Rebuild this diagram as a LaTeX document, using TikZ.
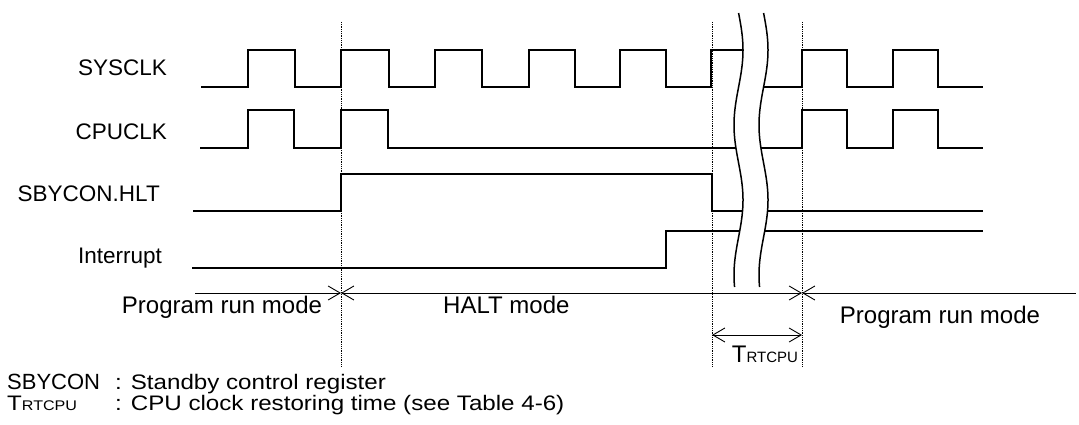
\documentclass[tikz,border=0pt]{standalone}
\usepackage{fontspec}
\setmainfont{Liberation Sans}
\newfontfamily\notefont[FakeStretch=1.15]{Liberation Sans}
\usetikzlibrary{arrows.meta}

\begin{document}
\begin{tikzpicture}[x=1pt,y=-1pt,>={Straight Barb[length=12pt,width=14pt]},
  sig/.style={line width=2pt},
  guide/.style={densely dotted,line width=0.8pt},
  span/.style={line width=0.9pt},
  wave/.style={line width=1.5pt},
  lbl/.style={font=\fontsize{24}{28}\selectfont,inner sep=0pt},
  siglbl/.style={font=\fontsize{22.5}{26}\selectfont,inner sep=0pt,anchor=base east},
  note/.style={font=\notefont\fontsize{21}{25}\selectfont,inner sep=0pt,anchor=base west}]

  \useasboundingbox (0,0) rectangle (1079,425);

  % signal names
  \node[siglbl] (sysclk) at (167,76) {SYSCLK};
  \node[siglbl] (cpuclk) at (167,140) {CPUCLK};
  \node[siglbl] (hlt) at (160,201) {SBYCON.HLT};
  \node[siglbl] (intr) at (162,263) {Interrupt};

  % dotted marks
  \foreach \n/\x in {a/341,b/712,c/802} {
    \coordinate (\n top) at (\x,22);
    \coordinate (\n bot) at (\x,367);
    \draw[guide] (\n top) -- (\n bot);
  }

  % waveforms
  \draw[sig] (201,87) -| (248,50) -| (295,87) -| (341,50) -| (389,87) -| (435,50)
    -| (482,87) -| (529,50) -| (575,87) -| (620,50) -| (666,87) -| (711,50)
    -| (752,87) -| (802,50) -| (847,87) -| (893,50) -| (938,87) -- (983,87);
  \draw[sig] (200,148) -| (248,110) -| (294,148) -| (341,110) -| (388,148)
    -| (802,110) -| (847,148) -| (893,110) -| (938,148) -- (983,148);
  \draw[sig] (193,211) -| (341,174) -| (712,211) -- (983,211);
  \draw[sig] (192,268) -| (666,231) -- (983,231);

  % time break
  \fill[white] plot[domain=13:287,samples=60,smooth,variable=\t] ({738.5+4.5*sin(2.4*(\t-12.5))},\t)
    -- plot[domain=287:13,samples=60,smooth,variable=\t] ({763.5+4.5*sin(2.4*(\t-12.5))},\t) -- cycle;
  \draw[wave] plot[domain=13:287,samples=60,smooth,variable=\t] ({738.5+4.5*sin(2.4*(\t-12.5))},\t);
  \draw[wave] plot[domain=13:287,samples=60,smooth,variable=\t] ({763.5+4.5*sin(2.4*(\t-12.5))},\t);

  % modes
  \coordinate (m0) at (195,293);
  \coordinate (m1) at (341,293);
  \coordinate (m2) at (802,293);
  \coordinate (m3) at (1076,293);
  \draw[span,->] (m0) -- (m1);
  \draw[span,<->] (m1) -- (m2);
  \draw[span,<-] (m2) -- (m3);
  \node[lbl,anchor=base] (run1) at (222,313) {Program run mode};
  \node[lbl,anchor=base west] (halt) at (443,313) {HALT mode};
  \node[lbl,anchor=base] (run2) at (940,323) {Program run mode};

  \coordinate (r0) at (712,335);
  \coordinate (r1) at (802,335);
  \draw[span,<->] (r0) -- (r1);
  \node[lbl,anchor=base] (trt) at (765,362) {T{\fontsize{15}{15}\selectfont RTCPU}};

  % notes
  \node[note,font=\fontsize{22}{26}\selectfont] (n1) at (7,389) {SBYCON};
  \node[note] (n1t) at (115,389) {: Standby control register};
  \node[note] (n2) at (7,410) {T{\fontsize{14}{14}\selectfont RTCPU}};
  \node[note] (n2t) at (115,410) {: CPU clock restoring time (see Table 4-6)};
\end{tikzpicture}
\end{document}
